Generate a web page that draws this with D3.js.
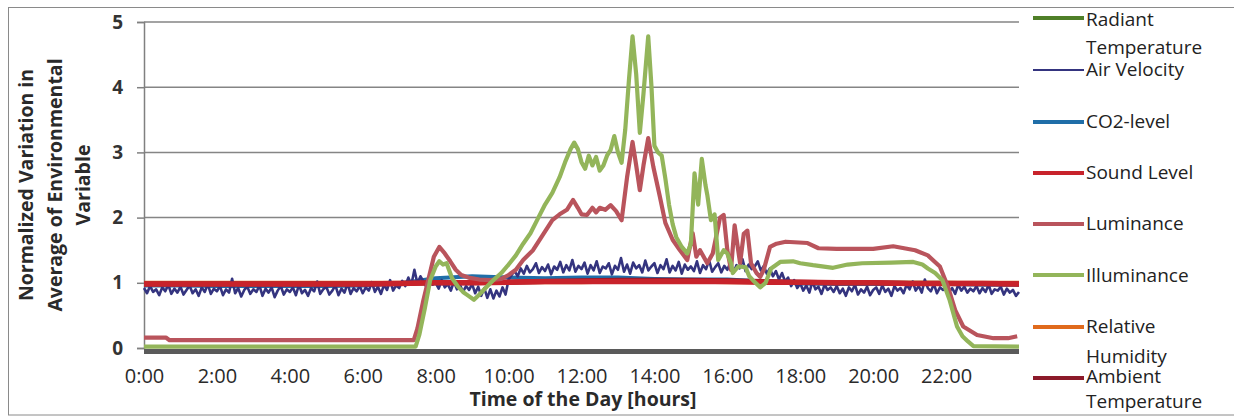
<!DOCTYPE html>
<html>
<head>
<meta charset="utf-8">
<script src="https://cdn.jsdelivr.net/npm/d3@7/dist/d3.min.js"></script>
<style>
  html, body { margin: 0; padding: 0; background: #fff; }
  svg { display: block; font-family: "Open Sans", "DejaVu Sans", sans-serif; }
</style>
</head>
<body>
<svg id="chart" width="1234" height="418"></svg>
<script>
// ---- data: normalized variation of each environmental variable over the day ----
const xTickHours = [0, 2, 4, 6, 8, 10, 12, 14, 16, 18, 20, 22];
const xTickLabels = ["0:00", "2:00", "4:00", "6:00", "8:00", "10:00", "12:00", "14:00", "16:00", "18:00", "20:00", "22:00"];
const yTicks = [0, 1, 2, 3, 4, 5];

// hourly readings (0:00 .. 24:00)
const hourly = [0, 1, 2, 3, 4, 5, 6, 7, 8, 9, 10, 11, 12, 13, 14, 15, 16, 17, 18, 19, 20, 21, 22, 23, 24];
const radiantTemp = [0.99, 0.99, 0.99, 0.99, 0.99, 0.99, 0.99, 0.99, 1.00, 1.00, 1.01, 1.02, 1.03, 1.03, 1.03, 1.03, 1.02, 1.02, 1.01, 1.01, 1.00, 1.00, 1.00, 0.99, 0.99];
const co2Level = [0.96, 0.96, 0.95, 0.95, 0.95, 0.95, 0.96, 0.99, 1.07, 1.10, 1.08, 1.07, 1.08, 1.08, 1.06, 1.05, 1.05, 1.02, 0.99, 0.98, 0.98, 0.98, 0.98, 0.97, 0.97];
const relHumidity = [1.00, 1.00, 1.00, 1.00, 1.00, 1.00, 1.00, 1.00, 1.00, 1.01, 1.01, 1.01, 1.01, 1.02, 1.02, 1.02, 1.01, 1.01, 1.01, 1.00, 1.00, 1.00, 1.00, 1.00, 1.00];
const ambientTemp = [0.98, 0.98, 0.98, 0.98, 0.98, 0.98, 0.98, 0.99, 1.00, 1.00, 1.01, 1.02, 1.03, 1.04, 1.04, 1.04, 1.03, 1.02, 1.01, 1.00, 1.00, 0.99, 0.99, 0.99, 0.98];
const soundLevel = [0.98, 0.98, 0.98, 0.98, 0.98, 0.98, 0.98, 0.99, 1.00, 1.00, 1.01, 1.02, 1.02, 1.02, 1.02, 1.02, 1.02, 1.01, 1.01, 1.00, 1.00, 0.99, 0.99, 0.99, 0.98];

// air velocity, one reading every 5 minutes (0:00 .. 24:00)
const airVelocityStepMin = 5;
const airVelocity = [
  0.92, 0.84, 0.95, 0.86, 0.90, 0.81, 0.93, 0.87, 0.97, 0.83, 0.91, 0.85,
  0.94, 0.82, 0.89, 0.96, 0.84, 0.90, 0.80, 0.93, 0.86, 0.98, 0.83, 0.91,
  0.87, 0.95, 0.81, 0.90, 0.85, 1.06, 0.84, 0.92, 0.79, 0.89, 0.94, 0.83,
  0.90, 0.86, 0.96, 0.80, 0.91, 0.85, 0.93, 0.78, 0.88, 0.95, 0.82, 0.90,
  0.86, 0.93, 0.81, 0.97, 0.84, 0.89, 0.80, 0.92, 0.87, 1.02, 0.83, 0.90,
  0.94, 0.82, 0.88, 0.96, 0.81, 0.91, 0.85, 0.99, 0.83, 0.92, 0.87, 0.95,
  0.84, 0.93, 0.88, 1.01, 0.86, 0.94, 0.83, 0.97, 0.89, 1.04, 0.88, 0.96,
  0.92, 1.03, 0.95, 1.08, 0.97, 1.20, 0.99, 1.10, 1.02, 0.93, 1.05, 0.97,
  1.00, 0.91, 1.04, 0.93, 0.98, 0.88, 1.02, 0.90, 0.97, 0.86, 0.95, 0.89,
  0.98, 0.84, 0.94, 0.80, 0.92, 0.77, 0.90, 0.76, 0.88, 0.79, 0.93, 0.82,
  1.05, 1.12, 1.18, 1.10, 1.22, 1.14, 1.26, 1.16, 1.21, 1.30, 1.15, 1.24,
  1.18, 1.28, 1.13, 1.25, 1.20, 1.32, 1.16, 1.27, 1.19, 1.35, 1.17, 1.26,
  1.21, 1.31, 1.14, 1.27, 1.19, 1.33, 1.15, 1.25, 1.22, 1.30, 1.13, 1.26,
  1.20, 1.38, 1.17, 1.28, 1.14, 1.31, 1.22, 1.27, 1.16, 1.34, 1.19, 1.25,
  1.30, 1.15, 1.27, 1.21, 1.36, 1.16, 1.26, 1.19, 1.32, 1.14, 1.28, 1.20,
  1.25, 1.18, 1.33, 1.15, 1.27, 1.21, 1.35, 1.17, 1.24, 1.30, 1.16, 1.26,
  1.20, 1.31, 1.15, 1.27, 1.22, 1.36, 1.18, 1.28, 1.21, 1.25, 1.33, 1.19,
  1.26, 1.14, 1.22, 1.10, 1.18, 1.05, 1.15, 1.02, 1.08, 0.95, 1.04, 0.92,
  0.99, 0.88, 0.96, 0.85, 1.02, 0.90, 0.94, 0.83, 0.97, 0.89, 0.93, 0.86,
  0.95, 0.84, 0.91, 0.80, 0.93, 0.87, 0.97, 0.82, 0.90, 0.85, 0.94, 0.81,
  0.89, 0.93, 0.83, 0.96, 0.86, 0.91, 0.80, 0.95, 0.88, 0.92, 0.84, 0.97,
  0.90, 1.02, 0.88, 0.95, 0.85, 1.05, 0.92, 0.87, 0.98, 0.84, 0.93, 0.89,
  0.96, 0.86, 0.92, 0.83, 0.97, 0.88, 0.94, 0.85, 0.91, 0.87, 0.95, 0.84,
  0.92, 0.86, 0.97, 0.83, 0.90, 0.88, 0.94, 0.82, 0.91, 0.85, 0.89, 0.80,
  0.86
];

// luminance readings (hour of day, value)
const luminanceHours = [0, 0.6, 0.7, 7.4, 7.5, 7.65, 7.8, 7.95, 8.1, 8.25, 8.4, 8.55, 8.7, 8.9, 9.2, 9.5, 9.8, 10.0, 10.2, 10.4, 10.67, 10.9, 11.2, 11.4, 11.6, 11.77, 11.9, 12.0, 12.15, 12.3, 12.4, 12.5, 12.65, 12.8, 12.95, 13.1, 13.25, 13.4, 13.5, 13.6, 13.7, 13.83, 13.97, 14.15, 14.3, 14.5, 14.7, 14.9, 15.05, 15.15, 15.25, 15.45, 15.6, 15.8, 15.9, 16.0, 16.1, 16.2, 16.35, 16.45, 16.55, 16.65, 16.8, 16.9, 17.0, 17.17, 17.35, 17.6, 18.2, 18.5, 19.0, 20.0, 20.55, 21.15, 21.5, 21.83, 22.05, 22.25, 22.47, 22.85, 23.3, 23.7, 23.95];
const luminance = [0.16, 0.16, 0.12, 0.12, 0.30, 0.70, 1.05, 1.40, 1.55, 1.45, 1.33, 1.20, 1.12, 1.08, 1.05, 1.04, 1.06, 1.12, 1.20, 1.35, 1.50, 1.70, 1.96, 2.05, 2.12, 2.27, 2.15, 2.05, 2.04, 2.15, 2.08, 2.15, 2.12, 2.19, 2.10, 1.96, 2.62, 3.16, 2.80, 2.42, 2.80, 3.22, 2.78, 2.32, 1.92, 1.66, 1.50, 1.35, 1.76, 1.40, 1.50, 1.30, 1.45, 2.00, 2.04, 1.50, 1.20, 1.88, 1.30, 1.75, 1.80, 1.30, 1.15, 1.09, 1.20, 1.55, 1.60, 1.63, 1.61, 1.53, 1.52, 1.52, 1.56, 1.50, 1.42, 1.25, 0.94, 0.58, 0.33, 0.20, 0.15, 0.15, 0.18];

// illuminance readings (hour of day, value)
const illuminanceHours = [0, 7.45, 7.55, 7.7, 7.85, 8.0, 8.1, 8.2, 8.3, 8.45, 8.6, 8.75, 8.9, 9.05, 9.2, 9.4, 9.6, 9.8, 10.0, 10.2, 10.4, 10.6, 10.8, 11.0, 11.2, 11.4, 11.55, 11.7, 11.8, 11.9, 12.0, 12.1, 12.2, 12.3, 12.4, 12.5, 12.6, 12.7, 12.8, 12.9, 13.0, 13.1, 13.2, 13.3, 13.4, 13.5, 13.6, 13.7, 13.83, 13.92, 14.0, 14.1, 14.2, 14.3, 14.4, 14.5, 14.6, 14.75, 14.9, 15.0, 15.1, 15.2, 15.3, 15.4, 15.45, 15.55, 15.65, 15.75, 15.9, 16.0, 16.1, 16.15, 16.3, 16.5, 16.6, 16.7, 16.9, 17.05, 17.2, 17.45, 17.8, 18.0, 18.35, 18.9, 19.3, 19.7, 20.5, 21.1, 21.35, 21.5, 21.7, 21.9, 22.1, 22.3, 22.45, 22.6, 22.75, 24.0];
const illuminance = [0.02, 0.02, 0.20, 0.60, 1.04, 1.25, 1.33, 1.28, 1.30, 1.07, 0.95, 0.86, 0.80, 0.74, 0.82, 0.94, 1.05, 1.15, 1.28, 1.42, 1.60, 1.76, 1.98, 2.20, 2.38, 2.62, 2.85, 3.05, 3.15, 3.05, 2.85, 2.75, 2.95, 2.80, 2.93, 2.72, 2.80, 2.95, 3.04, 3.25, 3.00, 2.84, 3.35, 4.10, 4.78, 4.20, 3.30, 3.90, 4.78, 4.00, 3.10, 3.00, 2.95, 2.60, 2.20, 1.90, 1.70, 1.55, 1.45, 1.60, 2.68, 2.20, 2.90, 2.50, 2.35, 1.96, 2.05, 1.35, 1.50, 1.45, 1.30, 1.15, 1.25, 1.24, 1.10, 1.04, 0.93, 1.00, 1.22, 1.32, 1.33, 1.30, 1.27, 1.23, 1.28, 1.30, 1.31, 1.32, 1.28, 1.22, 1.15, 1.04, 0.73, 0.33, 0.18, 0.10, 0.03, 0.02];

const legendNames = ["Radiant Temperature", "Air Velocity", "CO2-level", "Sound Level", "Luminance", "Illuminance", "Relative Humidity", "Ambient Temperature"];

// ---- layout ----
const svg = d3.select("#chart");
const x = d3.scaleLinear().domain([0, 24]).range([144, 1019]);
const y = d3.scaleLinear().domain([0, 5]).range([348, 22]);

const colors = {
  "Radiant Temperature": "#4f7f28",
  "Air Velocity": "#34347f",
  "CO2-level": "#1f6ea8",
  "Sound Level": "#c8232b",
  "Luminance": "#b9545c",
  "Illuminance": "#93b55a",
  "Relative Humidity": "#e06a1c",
  "Ambient Temperature": "#8c1a2a"
};
const widths = {
  "Radiant Temperature": 4, "Air Velocity": 2.6, "CO2-level": 4, "Sound Level": 5.5,
  "Luminance": 4.2, "Illuminance": 4.2, "Relative Humidity": 4, "Ambient Temperature": 5
};

// outer frame
svg.append("rect").attr("x", 8.5).attr("y", 7.5).attr("width", 1240).attr("height", 407.5)
  .attr("fill", "none").attr("stroke", "#8a8a8a").attr("stroke-width", 1);

// horizontal gridlines
svg.append("g").selectAll("line").data(yTicks.filter(d => d > 0)).join("line")
  .attr("x1", x(0)).attr("x2", x(24)).attr("y1", d => y(d)).attr("y2", d => y(d))
  .attr("stroke", "#858585").attr("stroke-width", 1.5);

// y axis
const yAxis = svg.append("g").attr("transform", `translate(${x(0)},0)`)
  .call(d3.axisLeft(y).tickValues(yTicks).tickSize(7).tickPadding(14).tickFormat(d3.format("d")));
yAxis.select(".domain").attr("stroke", "#808080").attr("stroke-width", 1.5);
yAxis.selectAll(".tick line").attr("stroke", "#808080").attr("stroke-width", 1.5);
yAxis.selectAll("text").attr("font-size", 19).attr("font-weight", 700).attr("fill", "#333")
  .attr("font-family", "'Open Sans', sans-serif");

// x axis labels
const xAxis = svg.append("g").attr("transform", `translate(0,${y(0)})`)
  .call(d3.axisBottom(x).tickValues(xTickHours).tickSize(0).tickPadding(21)
    .tickFormat((d, i) => xTickLabels[i]));
xAxis.select(".domain").remove();
xAxis.selectAll("text").attr("font-size", 20).attr("fill", "#2a2a2a")
  .attr("font-family", "'Open Sans', sans-serif");

// series lines
const line = d3.line().x(d => x(d[0])).y(d => y(d[1]));
const hourlySeries = (vals) => hourly.map((h, i) => [h, vals[i]]);
const seriesData = [
  { name: "Radiant Temperature", pts: hourlySeries(radiantTemp) },
  { name: "CO2-level", pts: hourlySeries(co2Level) },
  { name: "Relative Humidity", pts: hourlySeries(relHumidity) },
  { name: "Ambient Temperature", pts: hourlySeries(ambientTemp) },
  { name: "Air Velocity", pts: airVelocity.map((v, i) => [i * airVelocityStepMin / 60, v]) },
  { name: "Sound Level", pts: hourlySeries(soundLevel) },
  { name: "Luminance", pts: luminanceHours.map((h, i) => [h, luminance[i]]) },
  { name: "Illuminance", pts: illuminanceHours.map((h, i) => [h, illuminance[i]]) }
];
svg.append("g").selectAll("path").data(seriesData).join("path")
  .attr("d", d => line(d.pts))
  .attr("fill", "none")
  .attr("stroke", d => colors[d.name])
  .attr("stroke-width", d => widths[d.name])
  .attr("stroke-linejoin", "round");

// thick baseline along the category axis
svg.append("line").attr("x1", x(0)).attr("x2", x(24)).attr("y1", y(0) + 3.5).attr("y2", y(0) + 3.5)
  .attr("stroke", "#5a5a5a").attr("stroke-width", 5);

// axis titles
const yTitle = svg.append("text").attr("transform", "translate(0,185) rotate(-90)")
  .attr("text-anchor", "middle").attr("font-size", 19.5).attr("font-weight", 700).attr("fill", "#2a2a2a");
[["Normalized Variation in", 33], ["Average of Environmental", 62], ["Variable", 90]].forEach(([t, bx]) => {
  yTitle.append("tspan").attr("x", 0).attr("y", bx).text(t);
});
svg.append("text").attr("x", 583).attr("y", 406).attr("text-anchor", "middle")
  .attr("font-size", 19.5).attr("font-weight", 700).attr("fill", "#2a2a2a")
  .text("Time of the Day [hours]");

// legend
const legendRows = [
  { name: "Radiant Temperature", ly: 18, lines: [["Radiant", 26], ["Temperature", 54]] },
  { name: "Air Velocity", ly: 70, lines: [["Air Velocity", 76]] },
  { name: "CO2-level", ly: 122, lines: [["CO2-level", 128]] },
  { name: "Sound Level", ly: 173, lines: [["Sound Level", 179]] },
  { name: "Luminance", ly: 224, lines: [["Luminance", 230]] },
  { name: "Illuminance", ly: 275, lines: [["Illuminance", 282]] },
  { name: "Relative Humidity", ly: 327, lines: [["Relative", 333], ["Humidity", 363]] },
  { name: "Ambient Temperature", ly: 378, lines: [["Ambient", 383], ["Temperature", 408]] }
];
const lg = svg.append("g");
legendRows.forEach(r => {
  lg.append("line").attr("x1", 1033).attr("x2", 1084).attr("y1", r.ly).attr("y2", r.ly)
    .attr("stroke", colors[r.name]).attr("stroke-width", r.name === "Air Velocity" ? 2 : 4);
  r.lines.forEach(([t, by]) => {
    lg.append("text").attr("x", 1086).attr("y", by).attr("font-size", 19).attr("fill", "#222").text(t);
  });
});
</script>
</body>
</html>
